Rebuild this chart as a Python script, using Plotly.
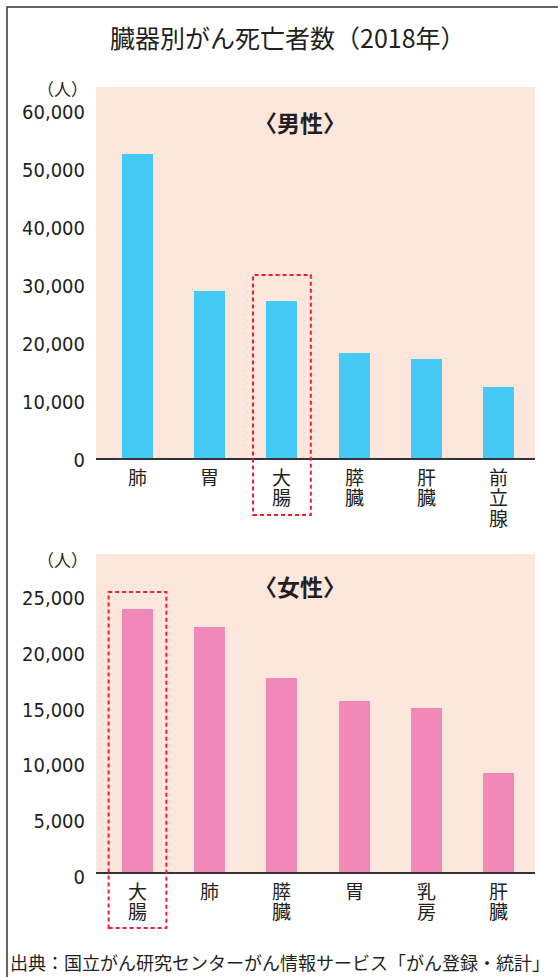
import plotly.graph_objects as go

# ---- data ----
male_organs = ["肺", "胃", "大腸", "膵臓", "肝臓", "前立腺"]
male_deaths = [52401, 28843, 27098, 18125, 17032, 12250]
female_organs = ["大腸", "肺", "膵臓", "胃", "乳房", "肝臓"]
female_deaths = [23560, 21927, 17390, 15349, 14653, 8893]
male_ticks = [0, 10000, 20000, 30000, 40000, 50000, 60000]
female_ticks = [0, 5000, 10000, 15000, 20000, 25000]
title_text = "臓器別がん死亡者数（2018年）"
male_label = "〈男性〉"
female_label = "〈女性〉"
unit_label = "（人）"
source_text = "出典：国立がん研究センターがん情報サービス「がん登録・統計」"
highlight = "大腸"

# ---- layout geometry (pixels) ----
W, H = 558, 977
L, R, T, B = 96, 23, 87, 105
PW, PH = W - L - R, H - T - B

def px(x):
    return (x - L) / PW

def py(y):
    return (H - B - y) / PH

CJK = "Noto Sans CJK JP"
NUM = "DejaVu Sans Condensed, Liberation Sans Narrow, Liberation Sans, Arial, sans-serif"
TXT = "#231f20"
BLUE = "#45c9f5"
PINK = "#f189b8"
BG = "#fde7dd"
RED = "#e8222c"

top_dom = [py(458), 1.0]
bot_dom = [0.0, py(554)]

fig = go.Figure()
fig.add_trace(go.Bar(x=list(range(len(male_organs))), y=male_deaths, width=0.43,
                     marker=dict(color=BLUE, line=dict(width=0)),
                     xaxis="x", yaxis="y", hoverinfo="skip"))
fig.add_trace(go.Bar(x=list(range(len(female_organs))), y=female_deaths, width=0.43,
                     marker=dict(color=PINK, line=dict(width=0)),
                     xaxis="x2", yaxis="y2", hoverinfo="skip"))

xcommon = dict(range=[-0.575, 5.505], showticklabels=False, showgrid=False,
               zeroline=False, showline=True, linecolor="#333333", linewidth=2,
               ticks="", fixedrange=True)
ycommon = dict(showgrid=False, zeroline=False, showline=False, ticks="",
               tickformat=",d", tickfont=dict(family=NUM, size=20, color=TXT),
               ticklabelstandoff=10, fixedrange=True)

fig.update_layout(
    width=W, height=H,
    margin=dict(l=L, r=R, t=T, b=B, pad=0),
    paper_bgcolor="white", plot_bgcolor=BG,
    showlegend=False, bargap=0,
    xaxis=dict(**xcommon, domain=[0, 1], anchor="y"),
    yaxis=dict(**ycommon, domain=top_dom, range=[0, 63966], tickvals=male_ticks,
               anchor="x", ticklabelshift=2),
    xaxis2=dict(**xcommon, domain=[0, 1], anchor="y2"),
    yaxis2=dict(**ycommon, domain=bot_dom, range=[0, 28490], tickvals=female_ticks,
                anchor="x2", ticklabelshift=5),
)

annotations = []
annotations.append(dict(text=title_text, x=px(288), y=py(37), xref="paper", yref="paper",
                        showarrow=False, xanchor="center", yanchor="middle",
                        font=dict(family=CJK, size=25, color=TXT)))
annotations.append(dict(text="<b>" + male_label + "</b>", x=px(300), y=py(122), xref="paper",
                        yref="paper", showarrow=False, xanchor="center", yanchor="middle",
                        font=dict(family=CJK, size=23, color=TXT)))
annotations.append(dict(text="<b>" + female_label + "</b>", x=px(300), y=py(586), xref="paper",
                        yref="paper", showarrow=False, xanchor="center", yanchor="middle",
                        font=dict(family=CJK, size=23, color=TXT)))
for yy in (88, 559):
    annotations.append(dict(text=unit_label, x=px(90), y=py(yy), xref="paper", yref="paper",
                            showarrow=False, xanchor="right", yanchor="middle",
                            font=dict(family=CJK, size=17, color=TXT)))
annotations.append(dict(text=source_text, x=px(8), y=py(962), xref="paper", yref="paper",
                        showarrow=False, xanchor="left", yanchor="middle",
                        font=dict(family=CJK, size=18, color=TXT)))

# vertical category labels (one character per line)
for organs, xr, yr in ((male_organs, "x", "y"), (female_organs, "x2", "y2")):
    for i, name in enumerate(organs):
        for j, ch in enumerate(name):
            annotations.append(dict(text=ch, x=i, y=0, xref=xr, yref=yr, showarrow=False,
                                    xanchor="center", yanchor="middle",
                                    borderpad=0, yshift=-(18 + 20.5 * j),
                                    font=dict(family=CJK, size=19, color=TXT)))
fig.update_layout(annotations=annotations)

shapes = []
# outer frame
shapes.append(dict(type="rect", xref="paper", yref="paper", x0=px(7), x1=px(600),
                   y0=py(1000), y1=py(7), line=dict(color="#333333", width=1.5),
                   fillcolor="rgba(0,0,0,0)", layer="above"))
# highlight boxes
mi = male_organs.index(highlight)
fi = female_organs.index(highlight)
shapes.append(dict(type="rect", xref="x", yref="paper", x0=mi - 0.4, x1=mi + 0.4,
                   y0=py(515), y1=py(275), line=dict(color=RED, width=2, dash="4px,3px"),
                   fillcolor="rgba(0,0,0,0)", layer="above"))
shapes.append(dict(type="rect", xref="x2", yref="paper", x0=fi - 0.4, x1=fi + 0.4,
                   y0=py(928), y1=py(592), line=dict(color=RED, width=2, dash="4px,3px"),
                   fillcolor="rgba(0,0,0,0)", layer="above"))
fig.update_layout(shapes=shapes)

fig.write_html("out.html", config={"displayModeBar": False},
               post_script="document.body.style.margin='0';document.body.style.overflow='hidden';")
